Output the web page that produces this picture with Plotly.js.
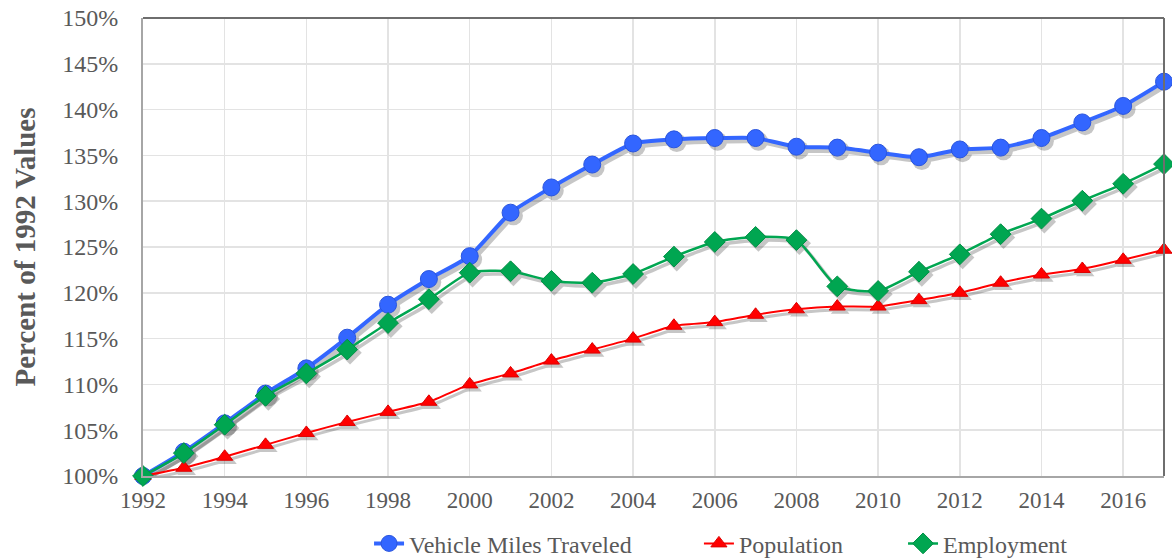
<!DOCTYPE html>
<html>
<head>
<meta charset="utf-8">
<script src="https://cdn.plot.ly/plotly-3.0.1.min.js"></script>
<style>html,body{margin:0;padding:0;background:#fff;}#chart{width:1172px;height:559px;}</style>
</head>
<body>
<div id="chart"></div>
<script>
const years = [1992,1993,1994,1995,1996,1997,1998,1999,2000,2001,2002,2003,2004,2005,2006,2007,2008,2009,2010,2011,2012,2013,2014,2015,2016,2017];
const vmt = [100,102.65,105.75,109.0,111.75,115.1,118.7,121.5,124.0,128.75,131.5,134.0,136.3,136.75,136.9,136.9,135.95,135.85,135.3,134.8,135.65,135.85,136.9,138.6,140.4,143.05];
const population = [100,100.9,102.1,103.4,104.7,105.9,107.0,108.1,110.0,111.2,112.6,113.8,115.0,116.4,116.8,117.6,118.2,118.5,118.5,119.2,120.0,121.1,122.0,122.6,123.6,124.7];
const employment = [100,102.5,105.6,108.75,111.2,113.8,116.7,119.3,122.2,122.35,121.3,121.1,122.05,123.95,125.55,126.1,125.75,120.7,120.2,122.3,124.2,126.4,128.1,130.05,131.9,134.05];
const seriesNames = ['Vehicle Miles Traveled','Population','Employment'];
const yTickVals = [100,105,110,115,120,125,130,135,140,145,150];
const yTickText = ['100%','105%','110%','115%','120%','125%','130%','135%','140%','145%','150%'];
const xTickVals = [1992,1994,1996,1998,2000,2002,2004,2006,2008,2010,2012,2014,2016];

const fontFam = 'Liberation Serif, DejaVu Serif, serif';
const grey = '#595959';
const xRange = [1992, 2017];
const yRange = [100, 150];

const styles = [
  {y: vmt, color: '#3366ff', edge: '#2a55dd', lw: 4, sym: 'circle', size: 17, sm: 0.5, legend: 'legend'},
  {y: population, color: '#ff0000', edge: '#dd0000', lw: 2, sym: 'triangle-up', size: 14, sm: 0.5, legend: 'legend2'},
  {y: employment, color: '#00a651', edge: '#008f45', lw: 2.5, sym: 'diamond', size: 16, sm: 0.6, legend: 'legend3'}
];

const traces = [];
// invisible carrier trace so the base (gridded) subplot is drawn
traces.push({x: years, y: vmt, xaxis: 'x', yaxis: 'y', mode: 'lines', type: 'scatter',
  line: {color: 'rgba(0,0,0,0)', width: 0}, showlegend: false, hoverinfo: 'skip'});
// soft shadows (drawn on a slightly shifted overlay axis pair)
styles.forEach((s) => {
  traces.push({x: years, y: s.y, xaxis: 'x2', yaxis: 'y2', mode: 'lines+markers', type: 'scatter',
    cliponaxis: false, showlegend: false, hoverinfo: 'skip', opacity: 0.22,
    line: {color: '#000000', width: s.lw + 1, shape: 'spline', smoothing: s.sm},
    marker: {symbol: s.sym, size: s.size + 2, color: '#000000'}});
});
styles.forEach((s, i) => {
  traces.push({x: years, y: s.y, name: seriesNames[i], xaxis: 'x3', yaxis: 'y3', legend: s.legend,
    mode: 'lines+markers', type: 'scatter', cliponaxis: false,
    line: {color: s.color, width: s.lw, shape: 'spline', smoothing: s.sm},
    marker: {symbol: s.sym, size: s.size, color: s.color, line: {color: s.edge, width: 1}}});
});

const hidden = {visible: false, fixedrange: true};
const legendBase = {orientation: 'h', y: -0.148, yanchor: 'middle', xanchor: 'left',
  font: {family: fontFam, size: 24, color: grey}, bgcolor: 'rgba(0,0,0,0)'};

const layout = {
  width: 1172, height: 559,
  margin: {l: 143, r: 8, t: 18, b: 83, autoexpand: false},
  paper_bgcolor: '#ffffff', plot_bgcolor: '#ffffff',
  font: {family: fontFam, color: grey, size: 23},
  showlegend: true,
  legend: Object.assign({}, legendBase, {x: 0.2214}),
  legend2: Object.assign({}, legendBase, {x: 0.5445}),
  legend3: Object.assign({}, legendBase, {x: 0.7444}),
  xaxis: {range: xRange, tickvals: xTickVals, ticktext: xTickVals.map(String),
          showgrid: true, gridcolor: '#e3e3e3', gridwidth: 1.5, zeroline: false,
          showline: true, linecolor: '#a6a6a6', linewidth: 2,
          ticks: 'outside', ticklen: 2, tickcolor: 'rgba(0,0,0,0)',
          tickfont: {family: fontFam, size: 23, color: grey}},
  yaxis: {range: yRange, tickvals: yTickVals, ticktext: yTickText,
          showgrid: true, gridcolor: '#e3e3e3', gridwidth: 1.5, zeroline: false,
          showline: true, linecolor: '#a6a6a6', linewidth: 2,
          ticks: 'outside', ticklen: 18, tickcolor: 'rgba(0,0,0,0)',
          tickfont: {family: fontFam, size: 24, color: grey},
          title: {text: '<b>Percent of 1992 Values</b>', font: {family: fontFam, size: 29, color: grey}, standoff: 18}},
  xaxis2: Object.assign({overlaying: 'x', range: [xRange[0] - 0.07, xRange[1] - 0.07]}, hidden),
  yaxis2: Object.assign({overlaying: 'y', range: [yRange[0] + 0.35, yRange[1] + 0.35]}, hidden),
  xaxis3: Object.assign({overlaying: 'x', range: xRange}, hidden),
  yaxis3: Object.assign({overlaying: 'y', range: yRange}, hidden),
  shapes: [
    {type: 'line', xref: 'paper', yref: 'paper', x0: 0, x1: 1, y0: 1, y1: 1, line: {color: '#6e6e6e', width: 2}},
    {type: 'line', xref: 'paper', yref: 'paper', x0: 1, x1: 1, y0: 0, y1: 1, line: {color: '#6e6e6e', width: 2}}
  ]
};

Plotly.newPlot('chart', traces, layout, {displayModeBar: false, staticPlot: true});
</script>
</body>
</html>
